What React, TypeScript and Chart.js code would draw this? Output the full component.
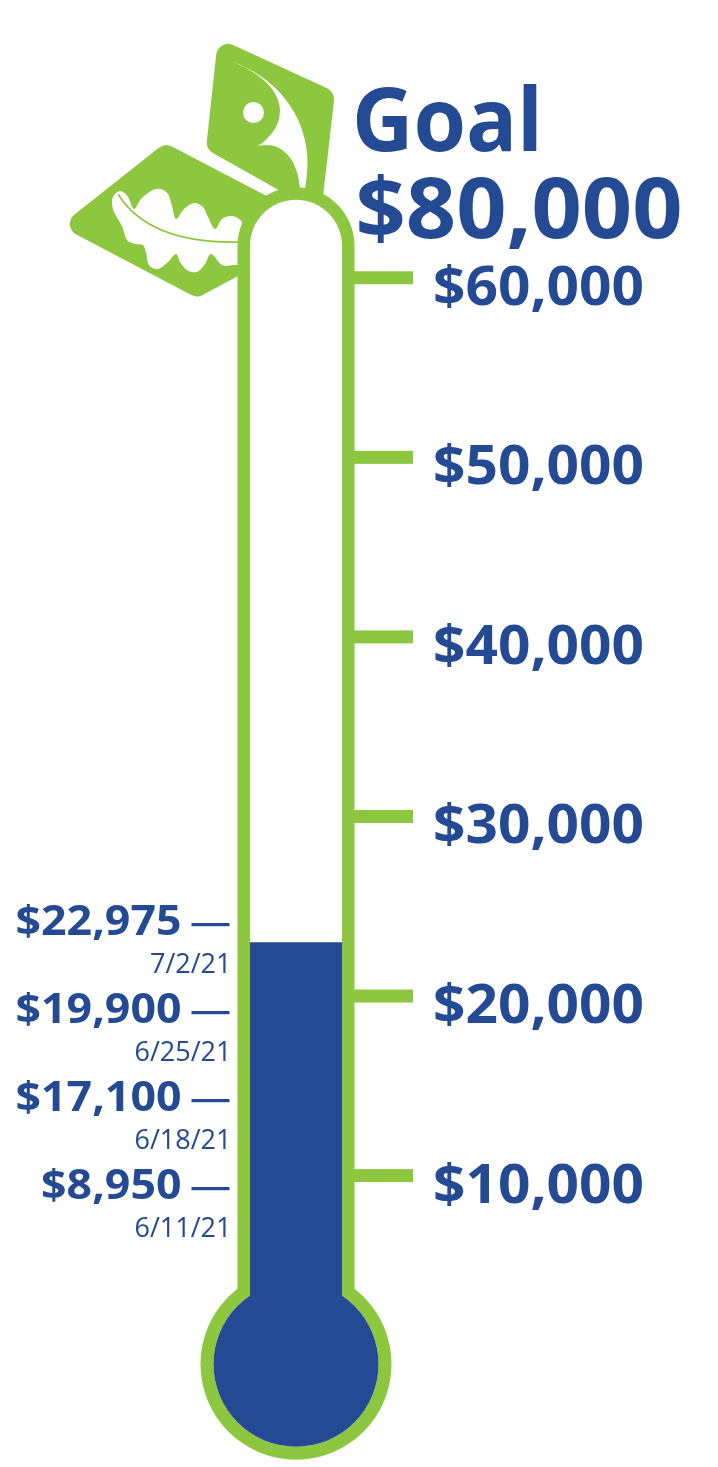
import React, { useEffect, useRef } from 'react';
import { Chart, registerables } from 'chart.js';

Chart.register(...registerables);

// ---- data ----
const categories = ['Raised'];
const raisedValues = [22975];
const milestoneAmounts = [22975, 19900, 17100, 8950];
const milestoneDates = ['7/2/21', '6/25/21', '6/18/21', '6/11/21'];
const tickValues = [10000, 20000, 30000, 40000, 50000, 60000];
const goalLabel = 'Goal';
const goalValue = 80000;

// ---- styles ----
const GREEN = '#8DC63F';
const BLUE = '#234A92';
const FONT = '"Open Sans", "Noto Sans", sans-serif';

const money = (v: number) => '$' + String(v).replace(/\B(?=(\d{3})+(?!\d))/g, ',');

type P = [number, number];

function putText(ctx: CanvasRenderingContext2D, text: string, x: number, y: number, font: string, align: CanvasTextAlign, sx: number) {
  ctx.save();
  ctx.font = font;
  ctx.textAlign = align;
  ctx.textBaseline = 'alphabetic';
  ctx.translate(x, y);
  ctx.scale(sx, 1);
  ctx.fillText(text, 0, 0);
  ctx.restore();
}

function fit(ctx: CanvasRenderingContext2D, font: string, sample: string, target: number) {
  ctx.save();
  ctx.font = font;
  const w = ctx.measureText(sample).width;
  ctx.restore();
  return w > 0 ? target / w : 1;
}

function roundedPoly(ctx: CanvasRenderingContext2D, pts: P[], r: number) {
  const n = pts.length;
  const m: P = [(pts[n - 1][0] + pts[0][0]) / 2, (pts[n - 1][1] + pts[0][1]) / 2];
  ctx.beginPath();
  ctx.moveTo(m[0], m[1]);
  for (let i = 0; i < n; i++) {
    const p = pts[i];
    const q = pts[(i + 1) % n];
    ctx.arcTo(p[0], p[1], q[0], q[1], r);
  }
  ctx.closePath();
}

// closed Catmull-Rom spline through all points
function splineClosed(ctx: CanvasRenderingContext2D, pts: P[]) {
  const n = pts.length;
  ctx.beginPath();
  ctx.moveTo(pts[0][0], pts[0][1]);
  for (let i = 0; i < n; i++) {
    const p0 = pts[(i - 1 + n) % n];
    const p1 = pts[i];
    const p2 = pts[(i + 1) % n];
    const p3 = pts[(i + 2) % n];
    const c1x = p1[0] + (p2[0] - p0[0]) / 6;
    const c1y = p1[1] + (p2[1] - p0[1]) / 6;
    const c2x = p2[0] - (p3[0] - p1[0]) / 6;
    const c2y = p2[1] - (p3[1] - p1[1]) / 6;
    ctx.bezierCurveTo(c1x, c1y, c2x, c2y, p2[0], p2[1]);
  }
  ctx.closePath();
}

function drawLogo(ctx: CanvasRenderingContext2D) {
  ctx.save();
  // lower tile
  ctx.fillStyle = GREEN;
  roundedPoly(ctx, [[60, 226], [165, 143], [328, 228], [197, 298]], 12);
  ctx.fill();
  // upper tile
  roundedPoly(ctx, [[218, 38], [335, 92], [321, 214], [206, 149]], 12);
  ctx.fill();

  // oak leaf
  ctx.fillStyle = '#ffffff';
  const leaf: P[] = [
    [115, 194], [121, 191], [128, 197], [134, 209], [141, 199], [151, 191], [160, 189], [168, 194],
    [172, 206], [176, 219], [184, 209], [194, 203], [203, 207], [208, 217], [215, 229], [222, 219],
    [232, 216], [242, 222], [248, 240], [243, 262], [233, 265], [222, 265], [211, 254], [205, 264],
    [197, 272], [187, 270], [180, 262], [176, 254], [168, 262], [158, 269], [149, 265], [146, 253],
    [143, 245], [136, 244], [127, 240], [122, 226], [114, 212], [112, 201],
  ];
  splineClosed(ctx, leaf);
  ctx.fill();
  ctx.strokeStyle = GREEN;
  ctx.lineWidth = 1.6;
  ctx.beginPath();
  ctx.moveTo(118, 194);
  ctx.bezierCurveTo(136, 223, 172, 244, 242, 242);
  ctx.stroke();

  // bird swoosh
  ctx.fillStyle = '#ffffff';
  ctx.beginPath();
  ctx.moveTo(230, 61);
  ctx.bezierCurveTo(282, 78, 318, 128, 305, 188);
  ctx.lineTo(300, 188);
  ctx.bezierCurveTo(298, 160, 282, 140, 258, 146);
  ctx.bezierCurveTo(272, 137, 285, 120, 278, 100);
  ctx.bezierCurveTo(272, 82, 250, 68, 230, 61);
  ctx.closePath();
  ctx.fill();
  ctx.beginPath();
  ctx.arc(253.5, 112.5, 10.5, 0, Math.PI * 2);
  ctx.fill();
  ctx.restore();
}

const thermometerPlugin = {
  id: 'thermometer',
  beforeDatasetsDraw(chart: any) {
    const ctx: CanvasRenderingContext2D = chart.ctx;
    const ys = chart.scales.y;
    const bar = chart.getDatasetMeta(0).data[0];
    const { x: cx, width } = bar.getProps(['x', 'width'], true);
    const half = width / 2;
    const border = 12.5;
    const outerHalf = half + border;
    const capY = ys.getPixelForValue(tickValues[tickValues.length - 1]) - 32;
    const bulbY = ys.getPixelForValue(0) + 9;

    drawLogo(ctx);

    ctx.save();
    // outer green body
    ctx.fillStyle = GREEN;
    ctx.beginPath();
    ctx.moveTo(cx - outerHalf, bulbY);
    ctx.lineTo(cx - outerHalf, capY);
    ctx.arc(cx, capY, outerHalf, Math.PI, 0);
    ctx.lineTo(cx + outerHalf, bulbY);
    ctx.closePath();
    ctx.fill();
    ctx.beginPath();
    ctx.arc(cx, bulbY, 95.5, 0, Math.PI * 2);
    ctx.fill();
    // ticks
    tickValues.forEach((tv) => {
      const ty = ys.getPixelForValue(tv);
      ctx.fillRect(cx + half, ty - 6.5, border + 58.5, 13);
    });
    // inner white
    ctx.fillStyle = '#ffffff';
    ctx.beginPath();
    ctx.moveTo(cx - half, bulbY);
    ctx.lineTo(cx - half, capY);
    ctx.arc(cx, capY, half, Math.PI, 0);
    ctx.lineTo(cx + half, bulbY);
    ctx.closePath();
    ctx.fill();
    ctx.beginPath();
    ctx.arc(cx, bulbY, 82.5, 0, Math.PI * 2);
    ctx.fill();
    ctx.restore();
  },
  afterDatasetsDraw(chart: any) {
    const ctx: CanvasRenderingContext2D = chart.ctx;
    const ys = chart.scales.y;
    const bar = chart.getDatasetMeta(0).data[0];
    const { x: cx, width } = bar.getProps(['x', 'width'], true);
    const half = width / 2;
    const border = 12.5;
    const outerHalf = half + border;
    const bulbY = ys.getPixelForValue(0) + 9;

    ctx.save();
    // filled bulb
    ctx.fillStyle = BLUE;
    ctx.beginPath();
    ctx.arc(cx, bulbY, 82.5, 0, Math.PI * 2);
    ctx.fill();

    // right-hand tick labels
    const tickFont = `700 54px ${FONT}`;
    const tickSx = fit(ctx, tickFont, money(60000), 211);
    tickValues.forEach((tv) => {
      const ty = ys.getPixelForValue(tv);
      putText(ctx, money(tv), cx + outerHalf + 78.5, ty + 27, tickFont, 'left', tickSx);
    });

    // goal
    const goalFont = `700 88px ${FONT}`;
    putText(ctx, goalLabel, cx + outerHalf - 2.5, 151, goalFont, 'left', fit(ctx, goalFont, goalLabel, 191));
    const goalAmtFont = `700 84px ${FONT}`;
    putText(ctx, money(goalValue), cx + outerHalf + 1, 238, goalAmtFont, 'left', fit(ctx, goalAmtFont, money(goalValue), 327));

    // milestone labels on the left
    const amtFont = `700 41px ${FONT}`;
    const amtSx = fit(ctx, amtFont, money(22975), 166);
    const dateFont = `400 28px ${FONT}`;
    const dateSx = fit(ctx, dateFont, '6/25/21', 97);
    const dashRight = cx - outerHalf - 8;
    const dashLeft = dashRight - 38;
    const gap = 88;
    const lift = 18;
    let prev = -Infinity;
    milestoneAmounts.forEach((amt, i) => {
      const ly = Math.max(ys.getPixelForValue(amt) - lift, prev + gap);
      prev = ly;
      ctx.fillRect(dashLeft, ly - 1.6, dashRight - dashLeft, 3.2);
      putText(ctx, money(amt), dashLeft - 10, ly + 10, amtFont, 'right', amtSx);
      putText(ctx, milestoneDates[i], dashRight + 2, ly + 48, dateFont, 'right', dateSx);
    });
    ctx.restore();
  },
};

export default function App() {
  const ref = useRef<HTMLCanvasElement | null>(null);

  useEffect(() => {
    let chart: Chart | null = null;
    let cancelled = false;
    const make = () => {
      if (cancelled || !ref.current) return;
      chart = new Chart(ref.current, {
        type: 'bar',
        data: {
          labels: categories,
          datasets: [
            {
              label: 'Raised',
              data: raisedValues,
              backgroundColor: BLUE,
              borderWidth: 0,
              barPercentage: 1,
              categoryPercentage: 1,
            },
          ],
        },
        options: {
          animation: false,
          responsive: false,
          maintainAspectRatio: false,
          devicePixelRatio: 1,
          layout: { padding: { top: 98.2, bottom: 4.1, left: 250, right: 376 } },
          plugins: { legend: { display: false }, tooltip: { enabled: false }, title: { display: false } },
          events: [],
          scales: {
            x: { type: 'category', display: false, offset: true },
            y: { type: 'linear', display: false, min: -6000, max: 70000 },
          },
        },
        plugins: [thermometerPlugin as any],
      });
    };
    const fonts = (document as any).fonts;
    if (fonts && fonts.load) {
      Promise.all([
        fonts.load(`700 54px ${FONT}`),
        fonts.load(`400 28px ${FONT}`),
      ]).then(make, make);
    } else {
      make();
    }
    return () => {
      cancelled = true;
      if (chart) chart.destroy();
    };
  }, []);

  return (
    <div style={{ position: 'absolute', left: 0, top: 0, width: 718, height: 1467, background: '#ffffff' }}>
      <canvas ref={ref} width={718} height={1467} style={{ display: 'block', width: 718, height: 1467 }} />
    </div>
  );
}
